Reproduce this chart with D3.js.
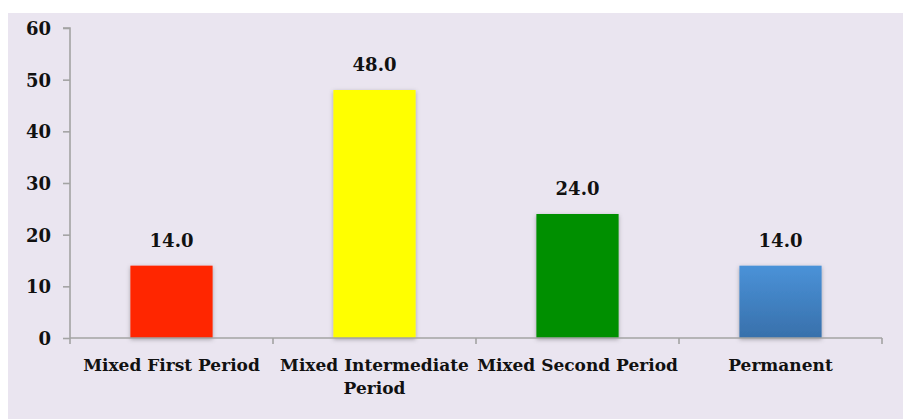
<!DOCTYPE html>
<html>
<head>
<meta charset="utf-8">
<script src="https://cdn.jsdelivr.net/npm/d3@7"></script>
<style>
	html, body { margin: 0; padding: 0; background: #ffffff; }
	svg { display: block; }
	text { font-family: "DejaVu Serif", serif; font-weight: bold; fill: #111; }
</style>
</head>
<body>
<svg id="chart"></svg>
<script>
// chart data
const categories = ['Mixed First Period', 'Mixed Intermediate Period', 'Mixed Second Period', 'Permanent'];
const values = [14.0, 48.0, 24.0, 14.0];
const barColors = ['#ff2600', '#ffff00', '#008f00', 'url(#blueGrad)'];
const yTicks = [0, 10, 20, 30, 40, 50, 60];

function wrapLabel(textSel, width) {
	textSel.each(function() {
		const text = d3.select(this);
		const words = text.text().split(' ');
		text.text(null);
		let line = [];
		let tspan = text.append('tspan').attr('x', 0).attr('dy', 0);
		for (const word of words) {
			line.push(word);
			tspan.text(line.join(' '));
			if (tspan.node().getComputedTextLength() > width && line.length > 1) {
				line.pop();
				tspan.text(line.join(' '));
				line = [word];
				tspan = text.append('tspan').attr('x', 0).attr('dy', 23).text(word);
			}
		}
	});
}

function constructChart() {
	const width = 903;
	const height = 419;
	const margin = { left: 70, right: 21, top: 28, bottom: 81 };

	const svg = d3.select('#chart')
		.attr('width', width)
		.attr('height', height);

	const defs = svg.append('defs');
	const grad = defs.append('linearGradient')
		.attr('id', 'blueGrad')
		.attr('x1', 0).attr('y1', 0)
		.attr('x2', 0).attr('y2', 1);
	grad.append('stop').attr('offset', '0%').attr('stop-color', '#4a92d8');
	grad.append('stop').attr('offset', '100%').attr('stop-color', '#3870ab');

	const shadow = defs.append('filter')
		.attr('id', 'shadow')
		.attr('x', '-20%').attr('y', '-20%')
		.attr('width', '140%').attr('height', '140%');
	shadow.append('feDropShadow')
		.attr('dx', 0).attr('dy', 1.5)
		.attr('stdDeviation', 2)
		.attr('flood-color', '#000')
		.attr('flood-opacity', 0.3);

	// panel background
	svg.append('rect')
		.attr('x', 8).attr('y', 13)
		.attr('width', width - 8).attr('height', height - 13)
		.attr('fill', '#eae5f0');

	const x = d3.scaleBand()
		.domain(categories)
		.range([margin.left, width - margin.right])
		.paddingInner(0)
		.paddingOuter(0);

	const y = d3.scaleLinear()
		.domain([0, 60])
		.range([height - margin.bottom, margin.top]);

	const barW = x.bandwidth() * 0.405;

	svg.selectAll('rect.bar')
		.data(values)
		.enter()
		.append('rect')
		.attr('class', 'bar')
		.attr('x', (d, i) => x(categories[i]) + (x.bandwidth() - barW) / 2)
		.attr('y', d => y(d))
		.attr('width', barW)
		.attr('height', d => y(0) - y(d))
		.attr('fill', (d, i) => barColors[i])
		.attr('filter', 'url(#shadow)');

	// y axis
	const yAxis = svg.append('g')
		.attr('transform', `translate(${margin.left},0)`)
		.call(d3.axisLeft(y).tickValues(yTicks).tickSize(7).tickPadding(12).tickFormat(d3.format('d')));
	yAxis.selectAll('path, line').attr('stroke', '#a3a3a3').attr('stroke-width', 1.6);
	yAxis.select('path').attr('d', `M-7,${y(60)}H0V${y(0)}`);
	yAxis.selectAll('text').attr('font-size', 18).style('font-family', '"DejaVu Serif", serif').style('font-weight', 'bold').attr('fill', '#111').attr('dy', '0.36em');

	// x axis with ticks at category boundaries
	const boundaries = categories.map(c => x(c)).concat([x.range()[1]]);
	const xAxisG = svg.append('g');
	xAxisG.append('line')
		.attr('x1', margin.left).attr('x2', x.range()[1])
		.attr('y1', y(0)).attr('y2', y(0))
		.attr('stroke', '#a3a3a3').attr('stroke-width', 1.6);
	xAxisG.selectAll('line.tick')
		.data(boundaries)
		.enter()
		.append('line')
		.attr('class', 'tick')
		.attr('x1', d => d).attr('x2', d => d)
		.attr('y1', y(0)).attr('y2', y(0) + 6)
		.attr('stroke', '#a3a3a3').attr('stroke-width', 1.6);

	xAxisG.selectAll('text.cat')
		.data(categories)
		.enter()
		.append('text')
		.attr('class', 'cat')
		.attr('transform', d => `translate(${x(d) + x.bandwidth() / 2},${y(0) + 33})`)
		.attr('text-anchor', 'middle')
		.attr('font-size', 17)
		.text(d => d)
		.call(wrapLabel, x.bandwidth() - 2);

	// value labels
	svg.selectAll('text.val')
		.data(values)
		.enter()
		.append('text')
		.attr('class', 'val')
		.attr('x', (d, i) => x(categories[i]) + x.bandwidth() / 2)
		.attr('y', d => y(d) - 19)
		.attr('text-anchor', 'middle')
		.attr('font-size', 18)
		.text(d => d3.format('.1f')(d));
}

document.addEventListener('DOMContentLoaded', () => {
	constructChart();
});
</script>
</body>
</html>
